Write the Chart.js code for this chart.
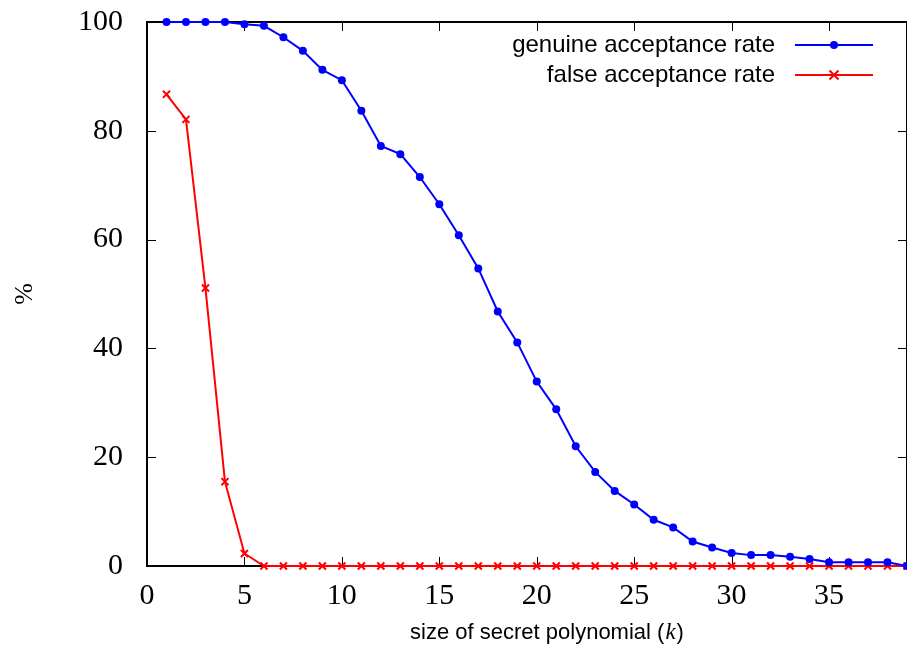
<!DOCTYPE html>
<html>
<head>
<meta charset="utf-8">
<script src="https://cdn.jsdelivr.net/npm/chart.js@4"></script>
<style>
  html, body { margin: 0; padding: 0; background: #fff; }
  #wrap { width: 907px; height: 655px; }
</style>
</head>
<body>
<div id="wrap"><canvas id="chart"></canvas></div>
<script>
// size of secret polynomial k
const kValues = [1, 2, 3, 4, 5, 6, 7, 8, 9, 10, 11, 12, 13, 14, 15, 16, 17, 18, 19, 20,
    21, 22, 23, 24, 25, 26, 27, 28, 29, 30, 31, 32, 33, 34, 35, 36, 37, 38, 39];

const genuineRate = [100, 100, 100, 100, 99.6, 99.3, 97.2, 94.7, 91.2, 89.3,
    83.7, 77.2, 75.7, 71.5, 66.5, 60.8, 54.7, 46.8, 41.1, 33.9,
    28.8, 22.0, 17.3, 13.8, 11.3, 8.5, 7.1, 4.5, 3.4, 2.4,
    2.0, 2.0, 1.7, 1.3, 0.7, 0.7, 0.7, 0.7, 0];

const falseRate = [86.7, 82.1, 51.1, 15.5, 2.3, 0, 0, 0, 0, 0,
    0, 0, 0, 0, 0, 0, 0, 0, 0, 0,
    0, 0, 0, 0, 0, 0, 0, 0, 0, 0,
    0, 0, 0, 0, 0, 0, 0, 0, 0];

const seriesLabels = ['genuine acceptance rate', 'false acceptance rate'];
const xTitle = ['size of secret polynomial (', 'k', ')'];

const toPoints = (ys) => kValues.map((k, i) => ({ x: k, y: ys[i] }));

// gnuplot-like frame with inward ticks on all four sides
const framePlugin = {
    id: 'frame',
    beforeDatasetsDraw(chart) {
        const { ctx, chartArea: a, scales } = chart;
        const len = 9;
        ctx.save();
        ctx.strokeStyle = '#000';
        ctx.lineWidth = 1;
        scales.x.ticks.forEach(t => {
            const px = Math.round(scales.x.getPixelForValue(t.value)) + 0.5;
            ctx.beginPath();
            ctx.moveTo(px, a.bottom); ctx.lineTo(px, a.bottom - len);
            ctx.moveTo(px, a.top); ctx.lineTo(px, a.top + len);
            ctx.stroke();
        });
        scales.y.ticks.forEach(t => {
            const py = Math.round(scales.y.getPixelForValue(t.value)) + 0.5;
            ctx.beginPath();
            ctx.moveTo(a.left, py); ctx.lineTo(a.left + len, py);
            ctx.moveTo(a.right, py); ctx.lineTo(a.right - len, py);
            ctx.stroke();
        });
        ctx.lineWidth = 2;
        ctx.strokeRect(a.left, a.top, a.right - a.left, a.bottom - a.top);

        // x axis title with an italic k
        const sans = '22px "Liberation Sans"';
        const ital = 'italic 23px "Liberation Serif"';
        ctx.fillStyle = '#000';
        ctx.textBaseline = 'middle';
        ctx.textAlign = 'left';
        ctx.font = sans;
        const w0 = ctx.measureText(xTitle[0]).width, w2 = ctx.measureText(xTitle[2]).width;
        ctx.font = ital;
        const w1 = ctx.measureText(xTitle[1]).width + 2;
        let x = 547 - (w0 + w1 + w2) / 2;
        const y = 633;
        ctx.font = sans; ctx.fillText(xTitle[0], x, y); x += w0;
        ctx.font = ital; ctx.fillText(xTitle[1], x + 1, y); x += w1;
        ctx.font = sans; ctx.fillText(xTitle[2], x, y);
        ctx.restore();
    }
};

// key in the top right corner, text first and sample line after it
const keyPlugin = {
    id: 'key',
    afterDatasetsDraw(chart) {
        const { ctx, chartArea: a } = chart;
        const textRight = a.right - 132;
        const lineL = a.right - 112, lineR = a.right - 34;
        ctx.save();
        ctx.font = '24px "Liberation Sans"';
        ctx.textAlign = 'right';
        ctx.textBaseline = 'middle';
        chart.data.datasets.forEach((ds, i) => {
            const y = a.top + 23 + i * 30;
            ctx.fillStyle = '#000';
            ctx.fillText(ds.label, textRight, y);
            ctx.strokeStyle = ds.borderColor;
            ctx.lineWidth = 2;
            ctx.beginPath();
            ctx.moveTo(lineL, y); ctx.lineTo(lineR, y);
            ctx.stroke();
            const mx = (lineL + lineR) / 2;
            if (ds.pointStyle === 'crossRot') {
                ctx.beginPath();
                ctx.moveTo(mx - 4.5, y - 4.5); ctx.lineTo(mx + 4.5, y + 4.5);
                ctx.moveTo(mx + 4.5, y - 4.5); ctx.lineTo(mx - 4.5, y + 4.5);
                ctx.stroke();
            } else {
                ctx.fillStyle = ds.borderColor;
                ctx.beginPath();
                ctx.arc(mx, y, 4, 0, Math.PI * 2);
                ctx.fill();
            }
        });
        ctx.restore();
    }
};

new Chart(document.getElementById('chart'), {
    type: 'line',
    data: {
        datasets: [{
            label: seriesLabels[0],
            data: toPoints(genuineRate),
            borderColor: '#0000ff',
            backgroundColor: '#0000ff',
            borderWidth: 2,
            pointStyle: 'circle',
            pointRadius: 4,
            pointBorderWidth: 0,
            clip: false
        }, {
            label: seriesLabels[1],
            data: toPoints(falseRate),
            borderColor: '#ff0000',
            backgroundColor: '#ff0000',
            borderWidth: 2,
            pointStyle: 'crossRot',
            pointRadius: 5,
            pointBorderWidth: 2,
            clip: false
        }]
    },
    plugins: [framePlugin, keyPlugin],
    options: {
        responsive: true,
        maintainAspectRatio: false,
        animation: false,
        layout: { autoPadding: false, padding: { top: 22, right: 0, left: 0, bottom: 0 } },
        plugins: {
            legend: { display: false },
            tooltip: { enabled: false }
        },
        scales: {
            x: {
                type: 'linear',
                min: 0,
                max: 39,
                grid: { display: false, drawTicks: false },
                border: { display: false },
                ticks: {
                    stepSize: 5,
                    includeBounds: false,
                    padding: 12,
                    color: '#000',
                    font: { family: '"Liberation Serif"', size: 30 }
                },
                afterFit: (s) => { s.height = 89; s.paddingLeft = 0; s.paddingRight = 0; }
            },
            y: {
                min: 0,
                max: 100,
                grid: { display: false, drawTicks: false },
                border: { display: false },
                ticks: {
                    stepSize: 20,
                    padding: 24,
                    color: '#000',
                    font: { family: '"Liberation Serif"', size: 30 }
                },
                title: {
                    display: true,
                    text: '%',
                    color: '#000',
                    font: { family: '"Liberation Serif"', size: 26 },
                    padding: { top: 10, bottom: 0 }
                },
                afterFit: (s) => { s.width = 147; s.paddingTop = 0; s.paddingBottom = 0; }
            }
        }
    }
});
</script>
</body>
</html>
